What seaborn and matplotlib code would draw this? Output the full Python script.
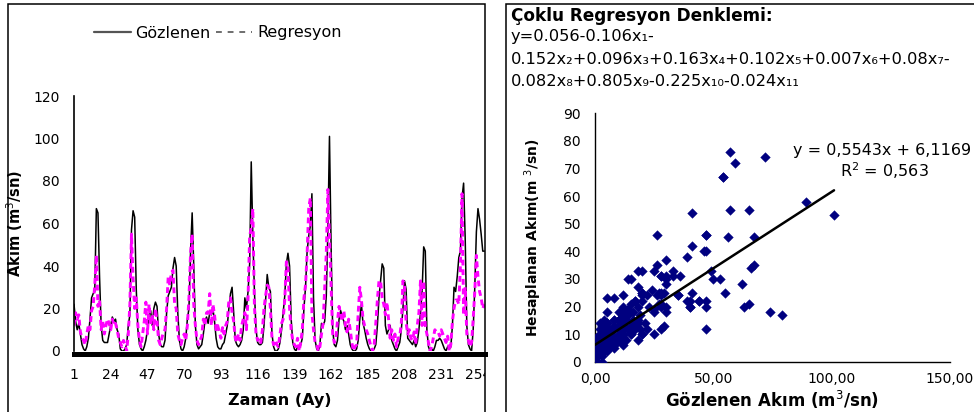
import numpy as np
import pandas as pd
import matplotlib
matplotlib.use("Agg")
import matplotlib.pyplot as plt
from matplotlib.lines import Line2D
from matplotlib.patches import Rectangle
from matplotlib.ticker import FuncFormatter
from matplotlib.transforms import Bbox, TransformedBbox
import seaborn as sns

# Monthly observed discharge (m3/s), months 1..258
gozlenen = [
    22, 14, 10, 13, 8, 3, 1, 0, 2, 6, 15, 25,
    27, 28, 67, 65, 35, 12, 5, 4, 4, 4, 8, 12,
    16, 14, 15, 10, 8, 1, 0, 0, 1, 3, 12, 17,
    57, 66, 63, 29, 10, 3, 1, 0, 2, 5, 10, 17,
    19, 12, 20, 23, 21, 8, 3, 2, 2, 5, 18, 26,
    28, 30, 39, 44, 40, 18, 5, 1, 0, 2, 6, 15,
    20, 47, 65, 40, 12, 3, 1, 2, 3, 8, 14, 16,
    13, 18, 17, 20, 14, 6, 2, 1, 1, 3, 4, 8,
    12, 20, 27, 30, 18, 5, 3, 2, 3, 5, 10, 25,
    20, 28, 41, 89, 54, 28, 10, 4, 3, 3, 4, 12,
    24, 36, 30, 28, 8, 2, 0, 0, 1, 4, 10, 18,
    26, 41, 46, 40, 15, 4, 1, 0, 2, 1, 3, 6,
    20, 30, 47, 54, 59, 74, 25, 5, 1, 0, 3, 13,
    12, 14, 26, 57, 101, 50, 10, 3, 2, 5, 15, 19,
    16, 14, 10, 12, 8, 3, 1, 0, 0, 1, 5, 15,
    22, 13, 10, 6, 3, 1, 0, 0, 1, 3, 12, 25,
    33, 41, 39, 12, 8, 10, 12, 5, 3, 1, 0, 2,
    4, 10, 20, 33, 29, 6, 5, 4, 3, 5, 2, 4,
    10, 18, 28, 49, 47, 10, 2, 0, 1, 0, 2, 5,
    5, 6, 5, 3, 1, 0, 2, 1, 2, 12, 30, 28,
    35, 44, 47, 72, 79, 53, 12, 3, 1, 0, 10, 30,
    56, 67, 62, 55, 47, 47,
]

# Multiple-regression estimate for the same months
regresyon = [
    12, 18, 15, 17, 9, 6, 5, 3, 8, 12, 10, 19,
    21, 31, 45, 21, 24, 10, 14, 8, 12, 15, 13, 10,
    15, 12, 13, 10, 6, 4, 2, 5, 3, 0, 8, 22,
    55, 34, 20, 25, 12, 5, 2, 8, 14, 23, 8, 22,
    12, 17, 10, 20, 14, 5, 3, 6, 9, 10, 20, 35,
    31, 37, 38, 22, 20, 8, 5, 3, 6, 8, 5, 12,
    25, 46, 55, 22, 12, 5, 3, 5, 7, 15, 12, 18,
    18, 27, 12, 22, 17, 10, 12, 9, 6, 11, 8, 12,
    14, 24, 25, 18, 14, 6, 4, 8, 5, 12, 15, 18,
    10, 25, 54, 58, 67, 21, 8, 5, 6, 4, 10, 20,
    26, 31, 30, 20, 6, 3, 5, 3, 2, 8, 13, 15,
    24, 42, 40, 20, 10, 5, 3, 2, 6, 0, 4, 10,
    25, 31, 46, 67, 72, 18, 10, 4, 3, 0, 2, 8,
    13, 30, 46, 76, 53, 30, 8, 4, 6, 14, 21, 17,
    14, 19, 12, 9, 15, 10, 4, 0, 2, 3, 18, 30,
    24, 15, 12, 10, 8, 5, 2, 0, 3, 13, 24, 33,
    33, 25, 22, 17, 23, 15, 6, 10, 5, 8, 2, 6,
    7, 13, 33, 31, 13, 8, 10, 6, 5, 9, 3, 12,
    18, 33, 12, 33, 12, 8, 4, 0, 2, 6, 10, 9,
    9, 7, 10, 8, 6, 4, 7, 0, 3, 14, 20, 24,
    24, 22, 40, 74, 17, 30, 8, 5, 2, 4, 15, 28,
    45, 35, 28, 25, 20, 22,
]

ay = list(range(1, len(gozlenen) + 1))
ay_ticks = list(range(1, 259, 23))
akim_ticks = [0, 20, 40, 60, 80, 100, 120]
sc_xticks = [0, 50, 100, 150]
sc_yticks = [0, 10, 20, 30, 40, 50, 60, 70, 80, 90]

# Linear trend reported on the chart
egim = 0.5543
kesim = 6.1169
r_kare = 0.563

df = pd.DataFrame({"Ay": ay, "Gozlenen": gozlenen, "Regresyon": regresyon})

sns.set_style("white")
plt.rcParams["font.family"] = ["DejaVu Sans"]
plt.rcParams["axes.linewidth"] = 1.0
plt.rcParams["text.color"] = "black"
plt.rcParams["axes.labelcolor"] = "black"
plt.rcParams["axes.edgecolor"] = "black"
plt.rcParams["xtick.color"] = "black"
plt.rcParams["ytick.color"] = "black"

W, H = 974, 412
fig = plt.figure(figsize=(W / 100, H / 100), dpi=100)


def fx(px):
    return px / W


def fy(py):
    return 1 - py / H


# Panel frames
fig.add_artist(Rectangle((fx(8), -0.05), fx(485 - 8), fy(4) + 0.05,
                         transform=fig.transFigure, fill=False,
                         lw=1.1, ec="black"))
fig.add_artist(Rectangle((fx(506), -0.05), fx(600), fy(4) + 0.05,
                         transform=fig.transFigure, fill=False,
                         lw=1.1, ec="black"))

# ---------- Left panel: time series ----------
ax1 = fig.add_axes([fx(74), fy(351), fx(485 - 74), (351 - 96) / H])
sns.lineplot(data=df, x="Ay", y="Gozlenen", ax=ax1, color="black", lw=1.1)
sns.lineplot(data=df, x="Ay", y="Regresyon", ax=ax1, color="#FF00FF",
             lw=2.1, linestyle=(0, (2.0, 1.3)))
ax1.set_xlim(1, 258.4)
ax1.set_ylim(0, 120)
ax1.set_xticks(ay_ticks)
ax1.set_yticks(akim_ticks)
ax1.tick_params(axis="y", direction="out", length=4, width=1,
                labelsize=10, pad=6)
ax1.tick_params(axis="x", length=0, labelsize=10, pad=10)
for s in ["top", "right"]:
    ax1.spines[s].set_visible(False)
ax1.spines["bottom"].set_linewidth(3.6)
ax1.spines["bottom"].set_position(("outward", 2.5))
ax1.spines["left"].set_linewidth(1.2)
ax1.set_xlabel("Zaman (Ay)", fontsize=11.5, fontweight="bold", labelpad=8)
ax1.set_ylabel("Akım (m$^3$/sn)", fontsize=10.5, fontweight="bold",
               labelpad=6)

# clip the tick labels to the left panel frame
clip_bb = TransformedBbox(Bbox([[fx(8), 0], [fx(485), 1]]), fig.transFigure)
for lbl in ax1.get_xticklabels():
    lbl.set_clip_on(True)
    lbl.set_clip_box(clip_bb)

leg_handles = [Line2D([], [], color="#555555", lw=1.6),
               Line2D([], [], color="#555555", lw=1.2, ls=(0, (3.5, 3.5)))]
ax1.legend(leg_handles, ["Gözlenen", "Regresyon"], ncol=2,
           loc="center left", bbox_to_anchor=(fx(94), fy(33)),
           bbox_transform=fig.transFigure, frameon=False, fontsize=11.5,
           handlelength=2.3, handletextpad=0.3, columnspacing=0.3,
           borderpad=0, borderaxespad=0)

# ---------- Right panel: scatter ----------
ax2 = fig.add_axes([fx(595), fy(361.7), fx(950 - 595), (361.7 - 113.3) / H])
sns.scatterplot(data=df, x="Gozlenen", y="Regresyon", ax=ax2,
                marker="D", s=24, color="#000080", edgecolor="#000080",
                linewidth=0.3, zorder=3)
xt = np.array([0, max(gozlenen)])
ax2.plot(xt, egim * xt + kesim, color="black", lw=1.8, zorder=4)
ax2.set_xlim(0, 150)
ax2.set_ylim(0, 90)
ax2.set_xticks(sc_xticks)
ax2.set_yticks(sc_yticks)
ax2.xaxis.set_major_formatter(FuncFormatter(lambda v, p: f"{v:.2f}".replace(".", ",")))
ax2.tick_params(axis="both", direction="out", length=4, width=1,
                labelsize=10)
ax2.tick_params(axis="y", pad=6)
for s in ["top", "right"]:
    ax2.spines[s].set_visible(False)
ax2.set_xlabel("Gözlenen Akım (m$^3$/sn)", fontsize=12, fontweight="bold",
               labelpad=2)
ax2.set_ylabel("Hesaplanan Akım(m $^3$/sn)", fontsize=10, fontweight="bold",
               labelpad=14)

fig.text(fx(793), fy(150), f"y = {egim:.4f}x + {kesim:.4f}".replace(".", ","),
         fontsize=11.5, va="center")
fig.text(fx(840), fy(171), f"R$^2$ = {r_kare:.3f}".replace(".", ","),
         fontsize=11.5, va="center")

# Equation text block
fig.text(fx(511), fy(16), "Çoklu Regresyon Denklemi:", fontsize=12.2,
         fontweight="bold", va="center")
fig.text(fx(511), fy(37), "y=0.056-0.106x₁-", fontsize=11.7, va="center")
fig.text(fx(511), fy(59), "0.152x₂+0.096x₃+0.163x₄+0.102x₅+0.007x₆+0.08x₇-",
         fontsize=11.7, va="center")
fig.text(fx(511), fy(81), "0.082x₈+0.805x₉-0.225x₁₀-0.024x₁₁",
         fontsize=11.7, va="center")

fig.savefig("out.png", dpi=100)
